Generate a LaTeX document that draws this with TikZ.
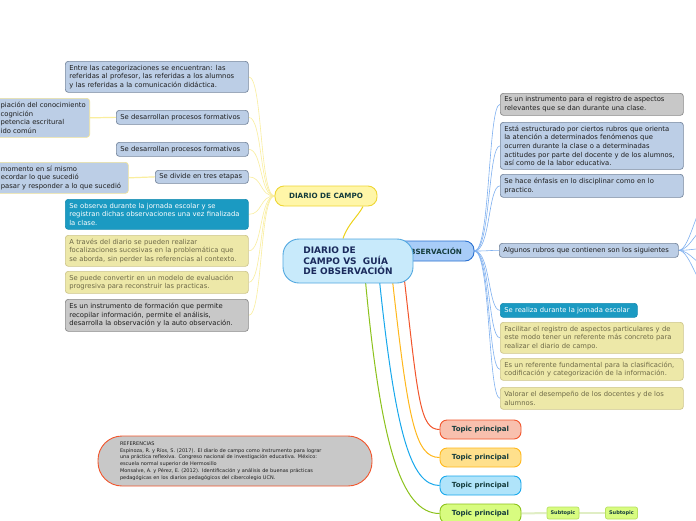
\documentclass[tikz,border=0pt]{standalone}
\usepackage{fontspec}
\setmainfont{DejaVu Sans}
\pgfdeclarelayer{bg}
\pgfsetlayers{bg,main}
\definecolor{lbfill}{HTML}{BCCEE6}
\definecolor{lbdraw}{HTML}{76879E}
\definecolor{grfill}{HTML}{C8C8C8}
\definecolor{grdraw}{HTML}{8A8A8A}
\definecolor{tlfill}{HTML}{1B9AC2}
\definecolor{tldraw}{HTML}{168CB2}
\definecolor{khfill}{HTML}{EDE8A8}
\definecolor{khdraw}{HTML}{CEC68C}
\definecolor{khtext}{HTML}{6E6A48}
\definecolor{bodytxt}{HTML}{1E1E1E}
\definecolor{yedge}{HTML}{EFE39A}
\definecolor{ylinkc}{HTML}{FAEE9E}
\definecolor{blinkc}{HTML}{7FB0F0}
\definecolor{dfill}{HTML}{FFF6A8}
\definecolor{ddraw}{HTML}{EED634}
\definecolor{gfill}{HTML}{A8CCF8}
\definecolor{gdraw}{HTML}{2A70D0}
\definecolor{cfill}{HTML}{C8EAFB}
\definecolor{cdraw}{HTML}{52A8E0}
\definecolor{ctext}{HTML}{1A2A5C}
\definecolor{htext}{HTML}{143C3C}
\definecolor{redl}{HTML}{F2552C}
\definecolor{redfill}{HTML}{F8C0AE}
\definecolor{orgl}{HTML}{FFB81C}
\definecolor{orgfill}{HTML}{FFE08C}
\definecolor{bluel}{HTML}{18A8EC}
\definecolor{bluefill}{HTML}{B0E4FA}
\definecolor{grnl}{HTML}{8CC21C}
\definecolor{grnfill}{HTML}{D8FC80}
\definecolor{subdraw}{HTML}{B8E060}
\definecolor{sublink}{HTML}{E0EEC4}
\definecolor{cdlink}{HTML}{EDD21A}
\tikzset{
  cb/.style={rounded corners=3pt, line width=0.7pt, inner xsep=4pt, inner ysep=1pt,
    align=left, anchor=north west, font=\fontsize{6.8}{8.6}\selectfont},
  lbbox/.style={cb, fill=lbfill, draw=lbdraw, text=bodytxt},
  lbybox/.style={cb, fill=lbfill, draw=yedge, text=bodytxt},
  grbox/.style={cb, fill=grfill, draw=grdraw, text=bodytxt},
  tlbox/.style={cb, fill=tlfill, draw=tldraw, text=white},
  khbox/.style={cb, fill=khfill, draw=khdraw, text=khtext},
  ylink/.style={draw=ylinkc, line width=0.6pt},
  yfat/.style={draw=ylinkc, line width=1.2pt},
  blink/.style={draw=blinkc, line width=0.6pt},
  headbox/.style={rounded corners=9pt, line width=0.9pt, minimum height=20, inner sep=0pt,
    font=\fontsize{7.2}{8}\selectfont\bfseries, text=htext},
  topicbox/.style={rounded corners=7pt, line width=0.9pt, minimum width=81, minimum height=19,
    inner sep=0pt, font=\fontsize{7}{8}\selectfont\bfseries, text=htext},
  subbox/.style={rounded corners=2pt, line width=0.7pt, minimum width=32, minimum height=12,
    inner sep=0pt, fill=grnfill, draw=subdraw, font=\fontsize{5}{5.5}\selectfont\bfseries, text=htext},
  tlink/.style={line width=1pt}
}
\begin{document}
\begin{tikzpicture}[x=1pt,y=-1pt]
\useasboundingbox (0,0) rectangle (696,520);

% ---- main nodes
\node[headbox, fill=dfill, draw=ddraw, minimum width=102] (d) at (326,196) {DIARIO DE CAMPO};
\node[headbox, fill=gfill, draw=gdraw, minimum width=118] (g) at (415,251) {GUÍA DE OBSERVACIÓN};
\node[rounded corners=16pt, line width=0.9pt, fill=cfill, draw=cdraw, minimum width=130,
  minimum height=44, inner sep=0pt, align=left, text=ctext,
  font=\fontsize{9}{10.5}\selectfont\bfseries] (cen) at (348,261)
  {DIARIO DE\\CAMPO VS\ \ GUÍA\\DE OBSERVACIÓN};

% ---- left children
\node[lbbox, minimum width=183, text width=175, minimum height=31] (c1) at (65,61)
  {Entre las categorizaciones se encuentran: las\\referidas al profesor, las referidas a los alumnos\\y las referidas a la comunicación didáctica.};
\node[lbybox, anchor=north east, minimum width=93, inner xsep=3pt, minimum height=39] (fa) at (90,98)
  {piación del conocimiento\\cognición\\petencia escritural\\ido común};
\node[lbbox, minimum width=132, text width=124, minimum height=14] (c2) at (116,110)
  {Se desarrollan procesos formativos};
\node[lbbox, minimum width=132, text width=124, minimum height=14] (c3) at (116,142)
  {Se desarrollan procesos formativos};
\node[lbbox, minimum width=93, text width=85, minimum height=13] (c4) at (155,170)
  {Se divide en tres etapas};
\node[lbybox, minimum width=131.5, text width=123.5, minimum height=31] (fb) at (-3.5,162)
  {momento en sí mismo\\ecordar lo que sucedió\\pasar y responder a lo que sucedió};
\node[tlbox, minimum width=183, text width=175, minimum height=30] (c5) at (65,199)
  {Se observa durante la jornada escolar y se\\registran dichas observaciones una vez finalizada\\la clase.};
\node[khbox, minimum width=183, text width=175, minimum height=31] (c6) at (65,235)
  {A través del diario se pueden realizar\\focalizaciones sucesivas en la problemática que\\se aborda, sin perder las referencias al contexto.};
\node[khbox, minimum width=183, text width=175, minimum height=22] (c7) at (65,271)
  {Se puede convertir en un modelo de evaluación\\progresiva para reconstruir las practicas.};
\node[grbox, minimum width=183, text width=175, minimum height=32] (c8) at (65,299)
  {Es un instrumento de formación que permite\\recopilar información, permite el análisis,\\desarrolla la observación y la auto observación.};

% ---- right children
\node[grbox, minimum width=183, text width=175, minimum height=22] (r1) at (500,93)
  {Es un instrumento para el registro de aspectos\\relevantes que se dan durante una clase.};
\node[lbbox, minimum width=183, text width=175, minimum height=47] (r2) at (500,122)
  {Está estructurado por ciertos rubros que orienta\\la atención a determinados fenómenos que\\ocurren durante la clase o a determinadas\\actitudes por parte del docente y de los alumnos,\\así como de la labor educativa.};
\node[lbbox, minimum width=183, text width=175, minimum height=23] (r3) at (500,174)
  {Se hace énfasis en lo disciplinar como en lo\\practico.};
\node[lbbox, minimum width=179, text width=171, minimum height=14] (r4) at (499,243)
  {Algunos rubros que contienen son los siguientes};
\node[tlbox, minimum width=137, text width=129, minimum height=14] (r5) at (500,303)
  {Se realiza durante la jornada escolar};
\node[khbox, minimum width=183, text width=175, minimum height=31] (r6) at (500,322)
  {Facilitar el registro de aspectos particulares y de\\este modo tener un referente más concreto para\\realizar el diario de campo.};
\node[khbox, minimum width=183, text width=175, minimum height=22] (r7) at (500,358)
  {Es un referente fundamental para la clasificación,\\codificación y categorización de la información.};
\node[khbox, minimum width=183, text width=175, minimum height=22] (r8) at (500,387)
  {Valorar el desempeño de los docentes y de los\\alumnos.};

% ---- topics
\node[topicbox, fill=redfill, draw=redl] (tp1) at (480.5,429.5) {Topic principal};
\node[topicbox, fill=orgfill, draw=orgl] (tp2) at (480.5,457.5) {Topic principal};
\node[topicbox, fill=bluefill, draw=bluel] (tp3) at (480.5,485.5) {Topic principal};
\node[topicbox, fill=grnfill, draw=grnl] (tp4) at (480.5,513.5) {Topic principal};
\node[subbox] (s1) at (563,513) {Subtopic};
\node[subbox] (s2) at (621.5,513) {Subtopic};

% ---- references
\node[rounded corners=24pt, line width=0.9pt, fill=grfill, draw=redl, minimum width=274,
  minimum height=50, inner xsep=22pt, inner ysep=2pt, text width=230, align=left,
  text=bodytxt, font=\fontsize{5}{6.8}\selectfont] (ref) at (235,461)
  {REFERENCIAS\\Espinoza, R. y Ríos, S. (2017). El diario de campo como instrumento para lograr\\una práctica reflexiva. Congreso nacional de investigación educativa. México:\\escuela normal superior de Hermosillo\\Monsalve, A. y Pérez, E. (2012). Identificación y análisis de buenas prácticas\\pedagógicas en los diarios pedagógicos del cibercolegio UCN.};

% ---- coordinates
\coordinate (o1) at (712,195);
\coordinate (o2) at (712,224);
\coordinate (o3) at (712,248);
\coordinate (o4) at (712,268);
\coordinate (o5) at (712,292);
\coordinate (t1s) at (404,276);
\coordinate (t2s) at (392,276);
\coordinate (t3s) at (379,276);
\coordinate (t4s) at (365,276);

\begin{pgfonlayer}{bg}
\fill[white] (0,0) rectangle (696,520);
\foreach \c in {c1,c2,c3,c4,c5,c6,c7,c8}
  \draw[ylink] (d.west) .. controls +(-15,0) and +(14,0) .. (\c.east);
\draw[yfat] (fa.east) -- (c2.west);
\draw[yfat] (fb.east) -- (c4.west);
\foreach \r in {r1,r2,r3,r4,r5,r6,r7,r8}
  \draw[blink] (g.east) .. controls +(16,0) and +(-12,0) .. (\r.west);
\foreach \o in {o1,o2,o3,o4,o5}
  \draw[blink] (r4.east) .. controls +(12,0) and +(-14,0) .. (\o);
\draw[draw=cdlink, line width=1pt] ([xshift=-5pt]cen.north) .. controls +(5,-15) and +(-5,10) .. ([xshift=37pt]d.south);
\draw[tlink, draw=redl] (t1s) .. controls (418,400) and (420,429.5) .. (tp1.west);
\draw[tlink, draw=orgl] (t2s) .. controls (408,420) and (415,457.5) .. (tp2.west);
\draw[tlink, draw=bluel] (t3s) .. controls (395,430) and (410,485.5) .. (tp3.west);
\draw[tlink, draw=grnl] (t4s) .. controls (380,440) and (400,513.5) .. (tp4.west);
\draw[draw=sublink, line width=2pt] (tp4.east) -- (s1.west);
\draw[draw=sublink, line width=2pt] (s1.east) -- (s2.west);
\end{pgfonlayer}
\end{tikzpicture}
\end{document}
